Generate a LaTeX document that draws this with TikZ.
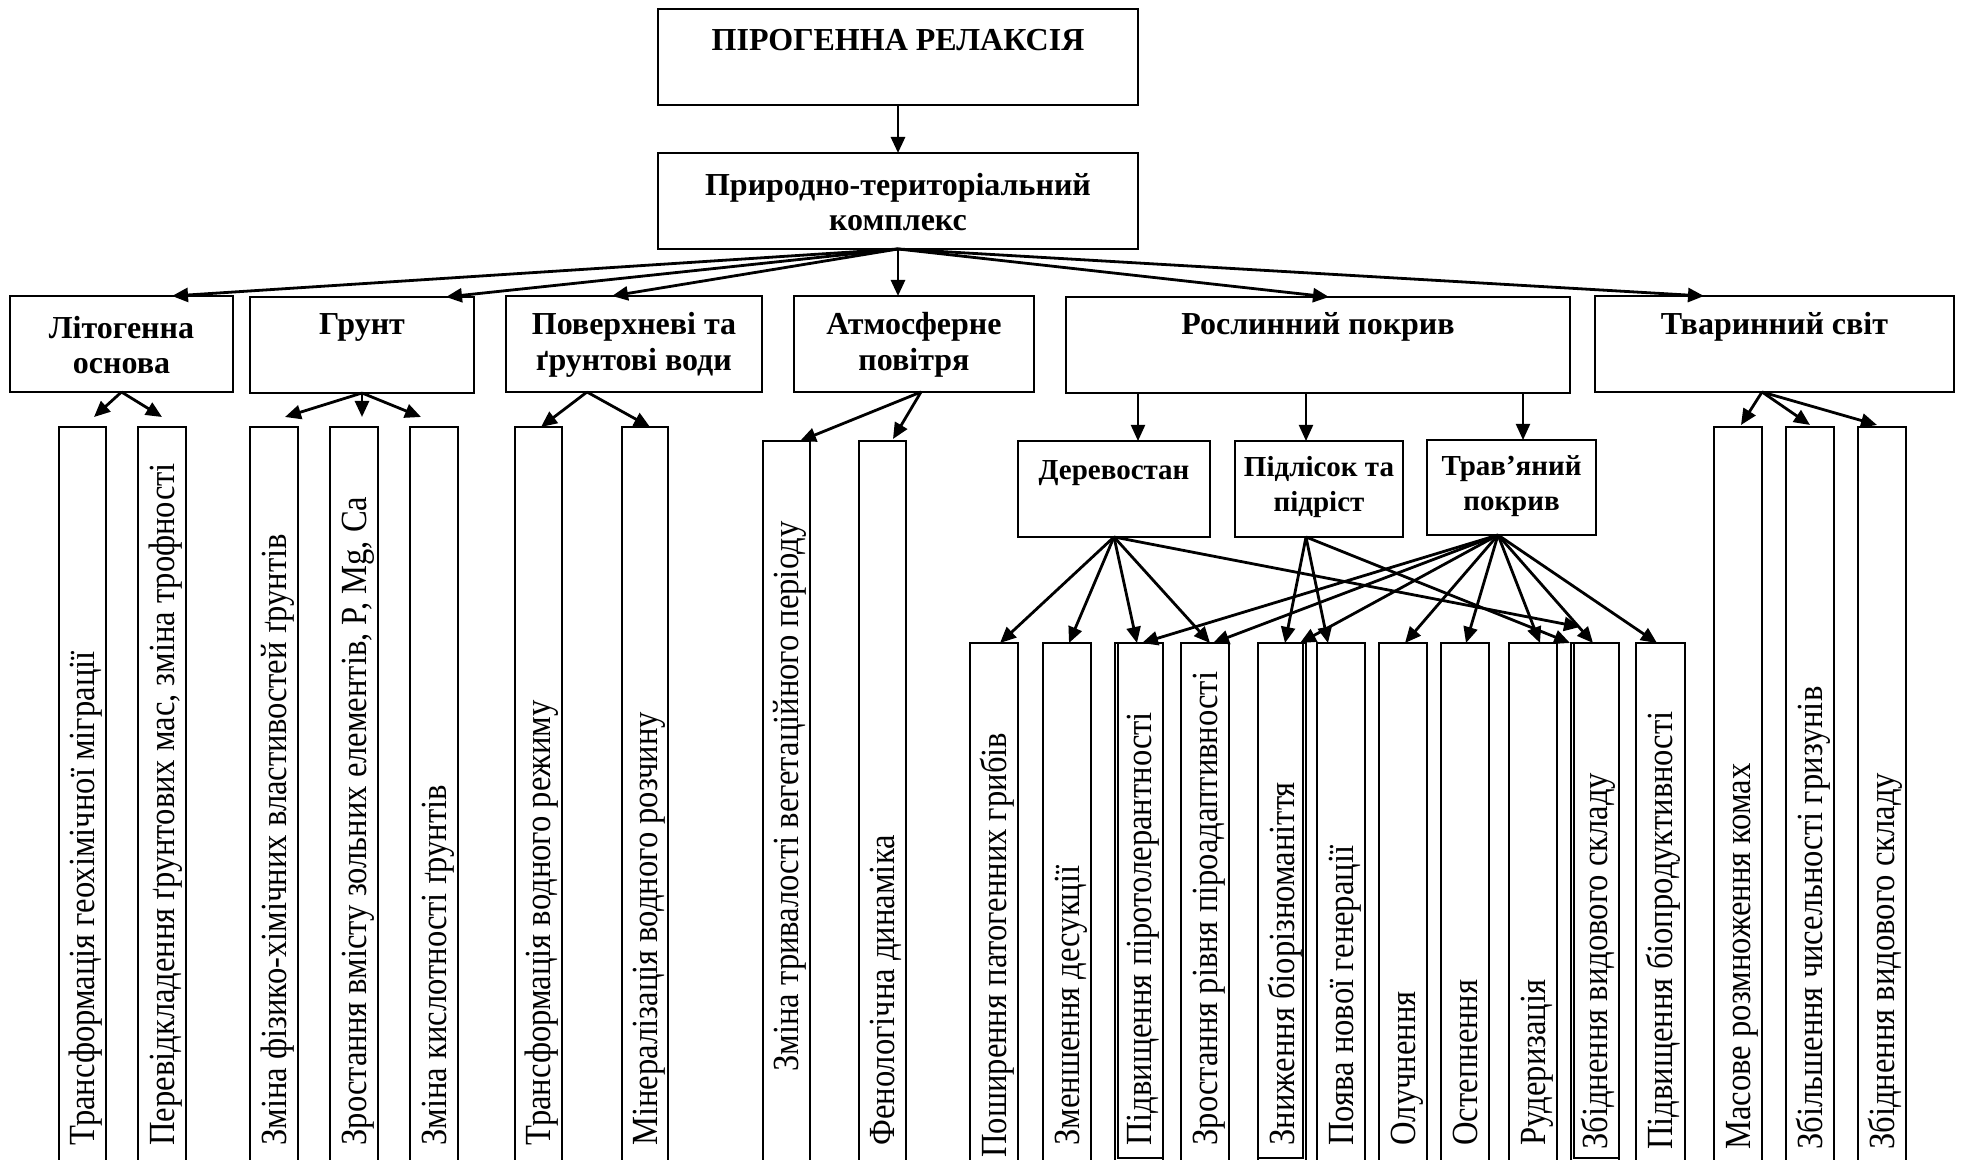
\documentclass[tikz,border=0pt]{standalone}
\usepackage{fontspec}
\setmainfont{Liberation Serif}
\usetikzlibrary{arrows.meta,fit}
\newcommand\mkleaf[6][1146]{%
  \node[leaf, fit={(#3,#5) (#4,1190)}] (#2) {};
  \node[lt] (#2t) at ({(#3+#4)/2},#1) {\scalebox{1}[1.13]{#6}};}
\begin{document}
\begin{tikzpicture}[x=0.5pt,y=-0.5pt,
  box/.style={draw, line width=1.2pt, inner sep=0pt, outer sep=0pt},
  leaf/.style={draw, line width=1pt, inner sep=0pt, outer sep=0pt},
  hd/.style={font=\fontsize{16}{17.8}\selectfont\bfseries, align=center, inner sep=0pt},
  sd/.style={font=\fontsize{14.5}{17.5}\selectfont\bfseries, align=center, inner sep=0pt},
  lt/.style={rotate=90, anchor=west, inner sep=0pt, font=\fontsize{16.3}{19}\selectfont, text height=12.2pt, text depth=0pt},
  arr/.style={-{Triangle[length=8pt,width=7pt]}, line width=1.4pt},
  arrs/.style={-{Triangle[length=8pt,width=7pt]}, line width=1pt}]
\useasboundingbox (0,0) rectangle (1966,1160);
\clip (0,0) rectangle (1966,1160);
\fill[white] (0,0) rectangle (1966,1160);

% top levels
\node[box, fit={(658,9) (1138,105)}] (top) {};
\node[hd] (topt) at (898,40) {ПІРОГЕННА РЕЛАКСІЯ};
\node[box, fit={(658,153) (1138,249)}] (ptk) {};
\node[hd] (ptkt) at (898,202) {Природно-територіальний\\комплекс};

% categories
\node[box, fit={(10,296) (233,392)}] (lit) {};
\node[hd] (litt) at (121.5,345) {Літогенна\\основа};
\node[box, fit={(250,297) (474,393)}] (grunt) {};
\node[hd] (gruntt) at (362,327) {Грунт};
\node[box, fit={(506,296) (762,392)}] (pov) {};
\node[hd] (povt) at (634,345) {Поверхневі та\\ґрунтові води};
\node[box, fit={(794,296) (1034,392)}] (atm) {};
\node[hd] (atmt) at (914,345) {Атмосферне\\повітря};
\node[box, fit={(1066,297) (1570,393)}] (rosl) {};
\node[hd] (roslt) at (1318,327) {Рослинний покрив};
\node[box, fit={(1595,296) (1954,392)}] (tvar) {};
\node[hd] (tvart) at (1774.5,327) {Тваринний світ};

% plant sub boxes
\node[box, fit={(1018,441) (1210,537)}] (der) {};
\node[sd] (dert) at (1114,473) {Деревостан};
\node[box, fit={(1235,441) (1403,537)}] (pid) {};
\node[sd] (pidt) at (1319,487) {Підлісок та\\підріст};
\node[box, fit={(1427,440) (1596,535)}] (trav) {};
\node[sd] (travt) at (1511.5,486) {Трав’яний\\покрив};

% leaves
\mkleaf{la1}{59}{106}{427}{Трансформація геохімічної міграції}
\mkleaf{la2}{138}{186}{427}{Перевідкладення ґрунтових мас, зміна трофності}
\mkleaf{lb1}{250}{298}{427}{Зміна фізико-хімічних властивостей ґрунтів}
\mkleaf{lb2}{330}{378}{427}{Зростання вмісту зольних елементів, P, Mg, Ca}
\mkleaf{lb3}{410}{458}{427}{Зміна кислотності ґрунтів}
\mkleaf{lc1}{515}{562}{427}{Трансформація водного режиму}
\mkleaf{lc2}{622}{668}{427}{Мінералізація водного розчину}
\mkleaf[1072]{ld1}{763}{810}{441}{Зміна тривалості вегетаційного періоду}
\mkleaf{ld2}{859}{906}{441}{Фенологічна динаміка}
\mkleaf[1158]{p1}{970}{1018}{643}{Поширення патогенних грибів}
\mkleaf{p2}{1043}{1091}{643}{Зменшення десукції}
\mkleaf{p3}{1115}{1163}{643}{Підвищення піротолерантності}
\mkleaf{p4}{1181}{1229}{643}{Зростання рівня піроадаптивності}
\mkleaf{p5}{1258}{1306}{643}{Зниження біорізноманіття}
\mkleaf{p6}{1317}{1365}{643}{Поява нової генерації}
\mkleaf{p7}{1379}{1427}{643}{Олучнення}
\mkleaf{p8}{1441}{1489}{643}{Остепнення}
\mkleaf{p9}{1509}{1557}{643}{Рудеризація}
\mkleaf[1150]{p10}{1571}{1619}{643}{Збіднення видового складу}
\mkleaf[1150]{p11}{1636}{1685}{643}{Підвищення біопродуктивності}
\mkleaf[1150]{le1}{1714}{1762}{427}{Масове розмноження комах}
\mkleaf[1150]{le2}{1786}{1834}{427}{Збільшення чисельності гризунів}
\mkleaf[1150]{le3}{1858}{1906}{427}{Збіднення видового складу}

% inner frames of some text boxes
\draw[line width=0.6pt] (1118,643) rectangle (1163,1158);
\draw[line width=0.6pt] (1258,643) rectangle (1303,1158);
\draw[line width=0.6pt] (1574,643) rectangle (1619,1158);

% connectors: top levels
\draw[arr] (top.south) -- (ptk.north);
\draw[arr] (ptk.south) -- ([xshift=25.25pt]lit.north);
\draw[arr] (ptk.south) -- ([xshift=42pt]grunt.north);
\draw[arr] (ptk.south) -- ([xshift=-11pt]pov.north);
\draw[arr] (ptk.south) -- ([xshift=-8pt]atm.north);
\draw[arr] (ptk.south) -- ([xshift=5.5pt]rosl.north);
\draw[arr] (ptk.south) -- ([xshift=-35.25pt]tvar.north);

% categories to leaves
\draw[arr] (lit.south) -- ([xshift=5.75pt,yshift=5pt]la1.north);
\draw[arr] (lit.south) -- ([yshift=5pt]la2.north);
\draw[arr] (grunt.south) -- ([xshift=5.5pt,yshift=5pt]lb1.north);
\draw[arr] (grunt.south) -- ([xshift=4pt,yshift=5pt]lb2.north);
\draw[arr] (grunt.south) -- ([xshift=-6.5pt,yshift=5pt]lb3.north);
\draw[arr] ([xshift=-23.5pt]pov.south) -- ([xshift=1.25pt]lc1.north);
\draw[arr] ([xshift=-23.5pt]pov.south) -- ([xshift=2.5pt]lc2.north);
\draw[arr] ([xshift=3.5pt]atm.south) -- ([xshift=6.75pt]ld1.north);
\draw[arr] ([xshift=3.5pt]atm.south) -- ([xshift=5.25pt,yshift=1pt]ld2.north);
\draw[arr] ([xshift=-6.25pt]tvar.south) -- ([xshift=1.5pt,yshift=1pt]le1.north);
\draw[arr] ([xshift=-6.25pt]tvar.south) -- ([yshift=1pt]le2.north);
\draw[arr] ([xshift=-6.25pt]tvar.south) -- ([xshift=-2.5pt,yshift=1pt]le3.north);

% plant cover to sub boxes
\draw[arrs] ([xshift=-90pt]rosl.south) -- ([xshift=12pt]der.north);
\draw[arrs] ([xshift=-6pt]rosl.south) -- ([xshift=-6.5pt]pid.north);
\draw[arrs] ([xshift=102.5pt]rosl.south) -- ([xshift=5.75pt]trav.north);

% sub boxes to plant leaves
\draw[arr] (der.south) -- ([xshift=3pt]p1.north);
\draw[arr] (der.south) -- ([xshift=1pt]p2.north);
\draw[arr] (der.south) -- ([xshift=-1pt]p3.north);
\draw[arr] (der.south) -- ([xshift=2.5pt]p4.north);
\draw[arr] (der.south) -- ([xshift=-7.5pt,yshift=8pt]p10.north);
\draw[arr] ([xshift=-6.5pt]pid.south) -- ([xshift=1.5pt]p5.north);
\draw[arr] ([xshift=-6.5pt]pid.south) -- ([xshift=-6.5pt]p6.north);
\draw[arr] ([xshift=-6.5pt]pid.south) -- ([xshift=-12.5pt]p10.north);
\draw[arr] ([xshift=-6.75pt]trav.south) -- ([xshift=1.5pt]p3.north);
\draw[arr] ([xshift=-6.75pt]trav.south) -- ([xshift=4pt]p4.north);
\draw[arr] ([xshift=-6.75pt]trav.south) -- ([xshift=9pt]p5.north);
\draw[arr] ([xshift=-6.75pt]trav.south) -- ([xshift=1pt]p7.north);
\draw[arr] ([xshift=-6.75pt]trav.south) -- ([xshift=0.5pt]p8.north);
\draw[arr] ([xshift=-6.75pt]trav.south) -- ([xshift=3.5pt]p9.north);
\draw[arr] ([xshift=-6.75pt]trav.south) -- ([xshift=-1pt]p10.north);
\draw[arr] ([xshift=-6.75pt]trav.south) -- ([xshift=-1.75pt]p11.north);
\end{tikzpicture}
\end{document}
